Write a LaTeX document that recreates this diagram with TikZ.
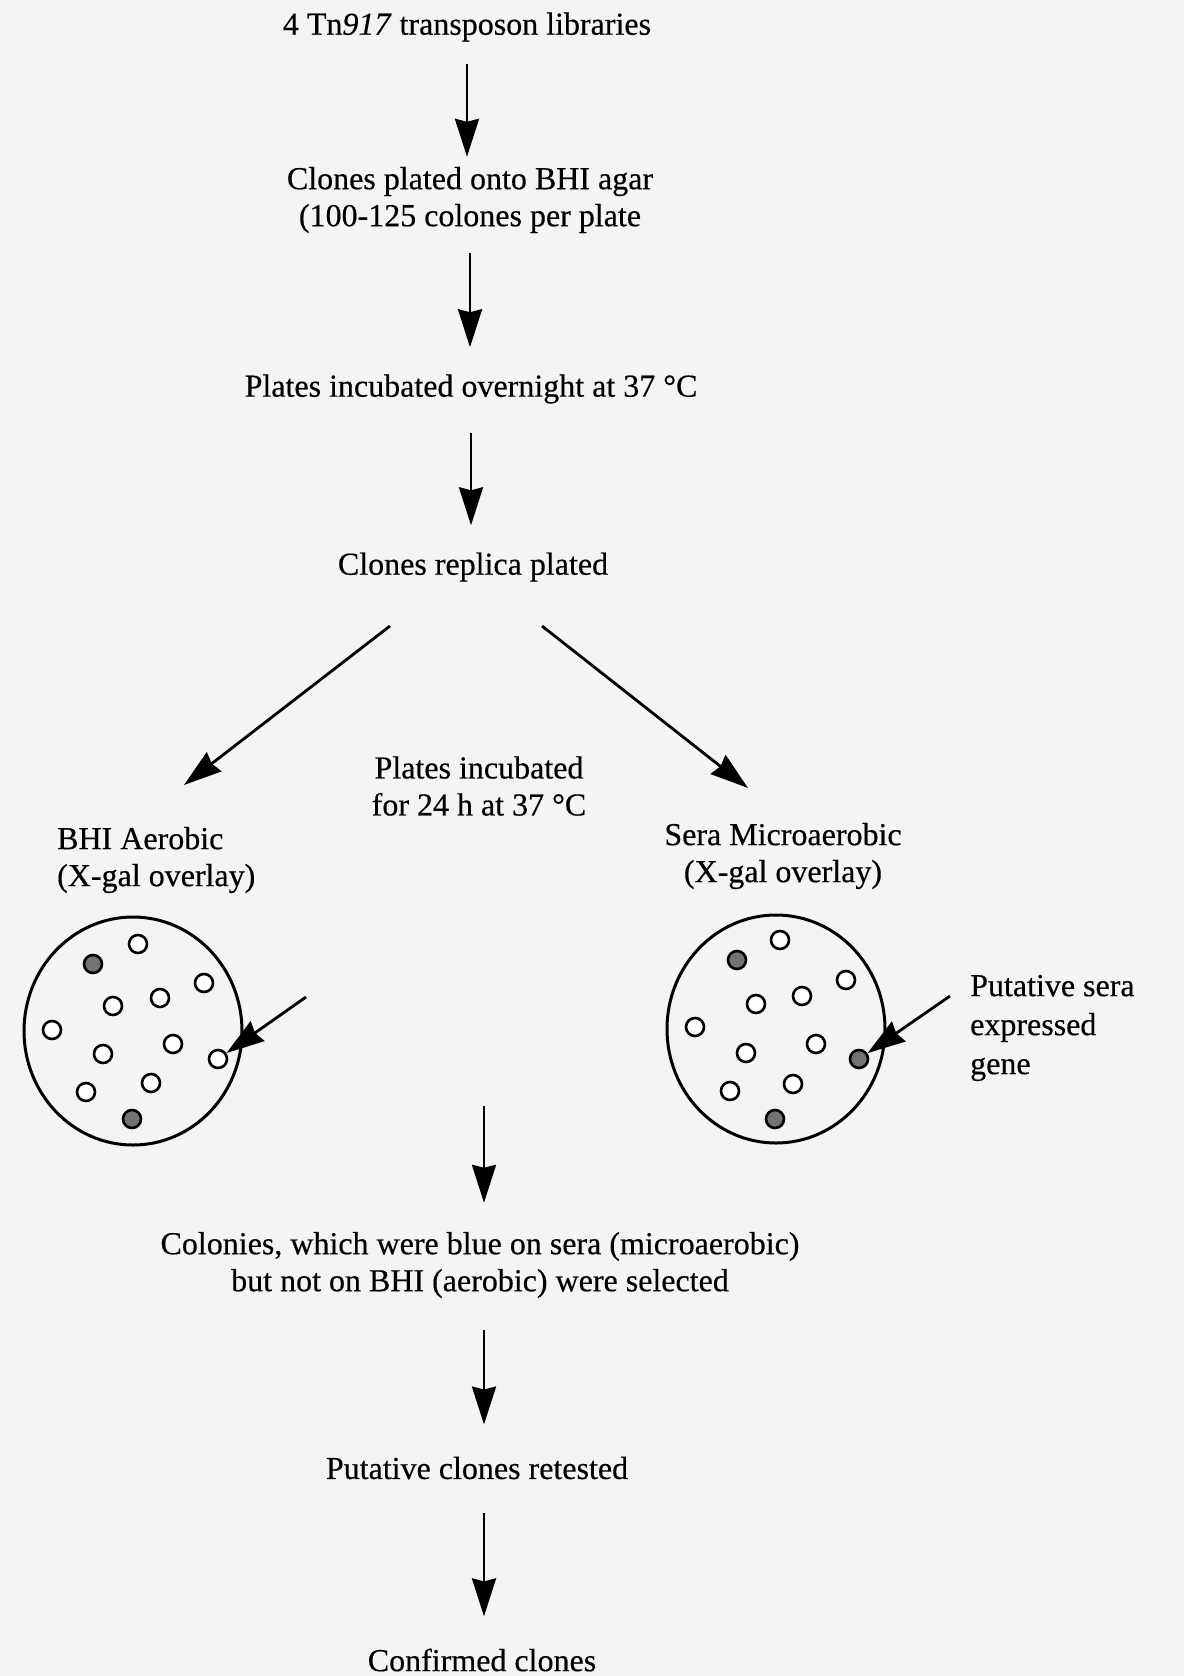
\documentclass[tikz,border=0pt]{standalone}
\usepackage{fontspec}
\setmainfont{Liberation Serif}[
  UprightFeatures={FakeBold=0.4},
  ItalicFeatures={FakeBold=0.4}
]
\usetikzlibrary{arrows.meta,calc,shapes.geometric}
\definecolor{paper}{gray}{0.955}
\definecolor{bluecol}{gray}{0.45}
\tikzset{
  step text/.style = {
    font={\fontsize{32}{37}\selectfont},
    align=center,
    inner sep=0pt
  },
  flow/.style = {
    line width=2.8pt,
    -{Stealth[length=38pt,width=24pt,inset=3pt]}
  },
  plate/.style = {
    draw, ellipse, line width=3pt,
    minimum width=218pt, minimum height=228pt, inner sep=0pt
  },
  colony/.style = {
    draw, circle, line width=2.6pt, fill=white,
    minimum size=18pt, inner sep=0pt
  },
  blue colony/.style = {
    colony, fill=bluecol
  },
}

\begin{document}
\begin{tikzpicture}[x=1pt,y=-1pt]
  \fill[paper] (0,0) rectangle (1184,1676);
  \useasboundingbox (0,0) rectangle (1184,1676);

  % steps down the middle
  \node[step text] (libs) at (467,27) {4 Tn\textit{917} transposon libraries};
  \node[step text] (plated) at (470,200) {Clones plated onto BHI agar\\(100-125 colones per plate};
  \node[step text] (overnight) at (471,389) {Plates incubated overnight at 37 °C};
  \node[step text] (replica) at (473,567) {Clones replica plated};
  \node[step text] (incub) at (479,786) {Plates incubated\\for 24 h at 37 °C};
  \node[step text, align=left, anchor=west] (bhi) at (57,860) {BHI Aerobic\\(X-gal overlay)};
  \node[step text] (sera) at (783,856) {Sera Microaerobic\\(X-gal overlay)};
  \node[step text, align=left, anchor=west, font={\fontsize{32}{39}\selectfont}] (putative) at (970,1028) {Putative sera\\expressed\\gene};
  \node[step text] (selected) at (480,1265) {Colonies, which were blue on sera (microaerobic)\\but not on BHI (aerobic) were selected};
  \node[step text] (retested) at (477,1468) {Putative clones retested};
  \node[step text] (confirmed) at (482,1660) {Confirmed clones};

  % the two plates
  \node[plate] (lplate) at (133,1031) {};
  \node[plate] (rplate) at (776,1029) {};

  \foreach \name/\x/\y in {
    lc1/138/944,
    lc2/204/983,
    lc3/160/998,
    lc4/113/1006,
    lc5/52/1030,
    lc6/173/1044,
    lc7/103/1054,
    lc8/218/1059,
    lc9/151/1083,
    lc10/86/1092,
    rc1/780/940,
    rc2/846/980,
    rc3/802/996,
    rc4/756/1004,
    rc5/695/1027,
    rc6/816/1044,
    rc7/746/1053,
    rc8/793/1084,
    rc9/730/1091
  } {
    \node[colony] (\name) at (\x,\y) {};
  }

  \foreach \name/\x/\y in {
    lb1/93/964,
    lb2/132/1119,
    rb1/737/960,
    rb2/859/1059,
    rb3/775/1119
  } {
    \node[blue colony] (\name) at (\x,\y) {};
  }

  % arrows
  \foreach \from/\to/\gapa/\gapb in {
    libs/plated/22/10,
    plated/overnight/20/27,
    overnight/replica/29/27
  } {
    \draw[flow, shorten <=\gapa pt, shorten >=\gapb pt] (\from.south) -- (\from.south |- \to.north);
  }

  \draw[flow] ($(replica)+(-83,59)$) -- ($(bhi.west)+(127,-75)$);
  \draw[flow] ($(replica)+(69,59)$) -- ($(sera)+(-35,-68)$);

  \coordinate (join) at (484,1106);
  \draw[flow, shorten >=29pt] (join) -- (join |- selected.north);

  \foreach \from/\to/\gapa/\gapb in {
    selected/retested/32/32,
    retested/confirmed/34/32
  } {
    \draw[flow, shorten <=\gapa pt, shorten >=\gapb pt] (join |- \from.south) -- (join |- \to.north);
  }

  \coordinate (lpoint) at (306,997);
  \draw[flow] (lpoint) -- (lc8);
  \coordinate (rpoint) at (950,996);
  \draw[flow] (rpoint) -- (rb2);
\end{tikzpicture}
\end{document}
